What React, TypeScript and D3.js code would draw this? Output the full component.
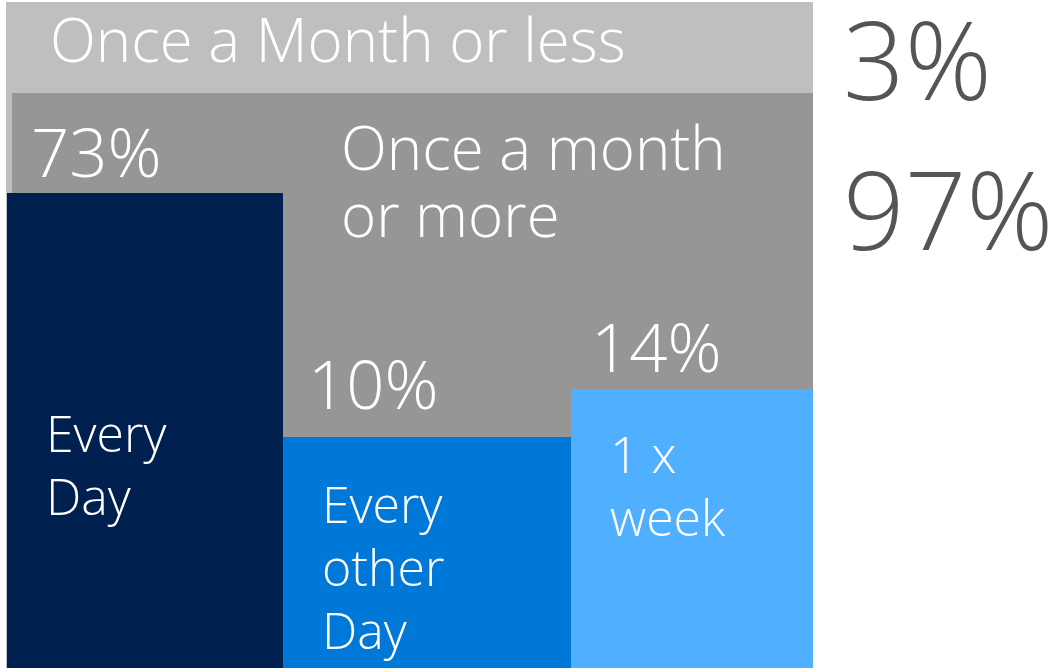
import React from 'react';
import * as d3 from 'd3';

// frequency groups (top level split)
const groupNames = ['Once a Month or less', 'Once a month or more'];
const groupLines = [['Once a Month or less'], ['Once a month', 'or more']];
const groupShares = [3, 97];

// frequency breakdown inside "once a month or more"
const freqNames = ['Every Day', 'Every other Day', '1 x week'];
const freqLines = [['Every', 'Day'], ['Every', 'other', 'Day'], ['1 x', 'week']];
const freqShares = [73, 10, 14];

const freqColors = ['#00204f', '#0078d7', '#50b0ff'];
const groupColors = ['#bfbfbf', '#969696'];

const W = 1054;
const H = 668;
const font = "'Open Sans', 'Segoe UI', sans-serif";

const App = () => {
  // share -> vertical position (infographic is not to scale, so piecewise)
  const y = d3.scaleLinear()
    .domain([0, freqShares[1], freqShares[2], freqShares[0], groupShares[1], 100])
    .range([H, 437, 389, 193, 93, 2]);

  // bar index -> horizontal position
  const x = d3.scaleLinear()
    .domain([0, 1, 2, 3])
    .range([7, 283, 571, 813]);

  const pctOffsetX = [24, 25, 20];
  const pctOffsetY = [-16, -28, -17];
  const nameOffsetY = [259, 86, 84];

  return (
    <svg width={W} height={H} style={{ position: 'absolute', left: 0, top: 0 }} fontFamily={font}>
      {/* once a month or less: full height background */}
      <rect x={6} y={y(100)} width={x(3) - 6} height={H - y(100)} fill={groupColors[0]} />
      {/* once a month or more */}
      <rect x={12} y={y(groupShares[1])} width={x(3) - 12} height={H - y(groupShares[1])} fill={groupColors[1]} />

      <text x={50} y={62} fill="#fff" fontSize={60} fontWeight={300}>{groupLines[0][0]}</text>
      {groupLines[1].map((l, i) => (
        <text key={l} x={341} y={170 + i * 67} fill="#fff" fontSize={60} fontWeight={300}>{l}</text>
      ))}

      {freqShares.map((v, i) => (
        <g key={freqNames[i]}>
          <rect x={x(i)} y={y(v)} width={x(i + 1) - x(i)} height={H - y(v)} fill={freqColors[i]} />
          <text x={x(i) + pctOffsetX[i]} y={y(v) + pctOffsetY[i]} fill="#fff" fontSize={67} fontWeight={300}>{v}%</text>
          {freqLines[i].map((l, j) => (
            <text key={l} x={x(i) + 39} y={y(v) + nameOffsetY[i] + j * 63} fill="#fff" fontSize={50} fontWeight={300}>{l}</text>
          ))}
        </g>
      ))}

      {groupShares.map((v, i) => (
        <text key={groupNames[i]} x={843} y={100 + i * 150} fill="#555" fontSize={108} fontWeight={300}>{v}%</text>
      ))}
    </svg>
  );
};

export default App;
